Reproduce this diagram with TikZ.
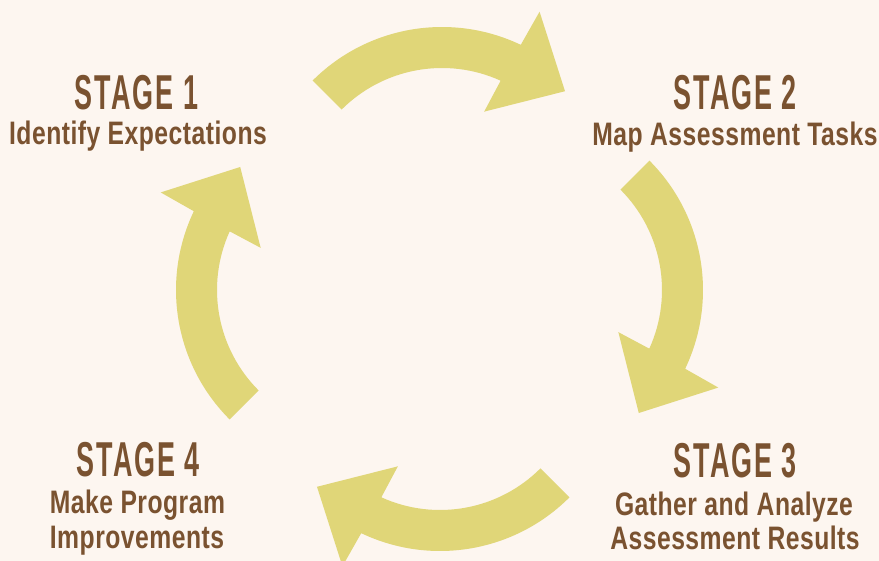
\documentclass[tikz,border=0pt]{standalone}
\usepackage{fontspec}
\newfontfamily\titlef[FakeStretch=0.55,LetterSpace=4]{Liberation Sans Bold}
\newfontfamily\subf[FakeStretch=0.76,LetterSpace=1.5]{Liberation Sans Bold}
\definecolor{bgcream}{RGB}{253,246,240}
\definecolor{arrowfill}{RGB}{224,214,120}
\definecolor{stagebrown}{RGB}{122,82,48}
\newcommand\cyclearrow[3]{%
  \begin{scope}[shift={(#1,#2)}]
    \fill[arrowfill] ({#3+45}:183) arc[start angle={#3+45}, end angle={#3-25.5}, radius=183]
      -- ({#3-26.2}:221) -- ({#3-46}:171) -- ({#3-23.2}:107) -- ({#3-24.4}:142)
      arc[start angle={#3-24.4}, end angle={#3+45}, radius=142] -- cycle;
  \end{scope}}
\tikzset{
  title/.style={inner sep=0pt, anchor=base, text=stagebrown, font=\titlef\fontsize{49}{49}\selectfont},
  sub/.style={inner sep=0pt, anchor=base, text=stagebrown, font=\subf\fontsize{32.5}{32.5}\selectfont}
}
\begin{document}
\begin{tikzpicture}[x=1pt,y=1pt]
\useasboundingbox (0,0) rectangle (879,-561);
\fill[bgcream] (0,0) rectangle (879,-561);
% arrows
\cyclearrow{442}{-210}{90}
\cyclearrow{520}{-290}{0}
\cyclearrow{440}{-368}{-90}
\cyclearrow{359}{-290}{180}
% stage 1
\node[title] (s1t) at (136.5,-110) {STAGE 1};
\node[sub] (s1a) at (138,-145) {Identify Expectations};
% stage 2
\node[title] (s2t) at (735.3,-110) {STAGE 2};
\node[sub] (s2a) at (735,-146) {Map Assessment Tasks};
% stage 3
\node[title] (s3t) at (735.3,-477.3) {STAGE 3};
\node[sub] (s3a) at (734,-515) {Gather and Analyze};
\node[sub] (s3b) at (735,-549.3) {Assessment Results};
% stage 4
\node[title] (s4t) at (138.3,-476.7) {STAGE 4};
\node[sub] (s4a) at (137.5,-514) {Make Program};
\node[sub] (s4b) at (137,-548.3) {Improvements};
\end{tikzpicture}
\end{document}
